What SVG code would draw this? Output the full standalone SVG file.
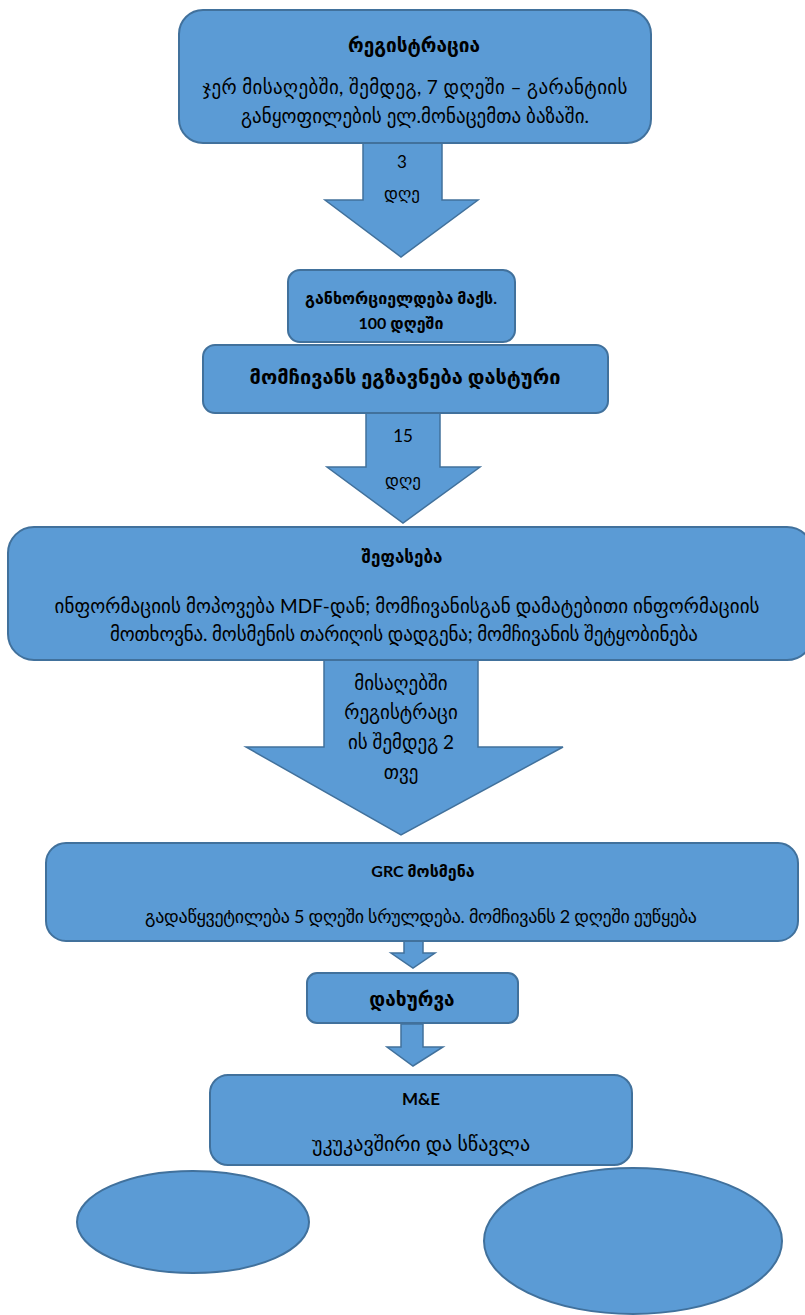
<svg xmlns="http://www.w3.org/2000/svg" width="805" height="1315" viewBox="0 0 805 1315">
<style>
.n{fill:#5B9BD5;stroke:#41719C;stroke-width:2}
.a{fill:#5B9BD5;stroke:#41719C;stroke-width:1.5}
text{font-family:Lato,"DejaVu Sans",sans-serif;fill:#000;text-anchor:middle}
.t{font-weight:bold;font-size:16px}
.b{font-size:19px}
</style>
<rect width="805" height="1315" fill="#fff"/>
<g id="connectors">
<path class="a" d="M363 143 V200 H325 L401 257 L478 200 H442 V143 Z"/>
<text class="b" x="402" y="168" style="font-size:17px">3</text>
<text class="b" x="402" y="199" style="font-size:17px">დღე</text>
<path class="a" d="M366 413 V467 H327 L403 523 L480 467 H440 V413 Z"/>
<text class="b" x="403" y="442" style="font-size:17px">15</text>
<text class="b" x="403" y="486" style="font-size:17px">დღე</text>
<path class="a" d="M324 660 V747 H246 L401 835 L563 747 H478 V660 Z"/>
<text class="b" x="401" y="690">მისაღებში</text>
<text class="b" x="401" y="719">რეგისტრაცი</text>
<text class="b" x="401" y="749">ის შემდეგ 2</text>
<text class="b" x="401" y="779">თვე</text>
<path class="a" d="M404 941 V953 H391 L413 968 L435 953 H423 V941 Z"/>
<path class="a" d="M401 1024 V1047 H387 L413 1066 L443 1047 H423 V1024 Z"/>
</g>
<g id="n1">
<rect class="n" x="179" y="10" width="472" height="133" rx="24"/>
<text class="t" x="414" y="52" style="font-size:19px">რეგისტრაცია</text>
<text class="b" x="415" y="94" textLength="425">ჯერ მისაღებში, შემდეგ, 7 დღეში – გარანტიის</text>
<text class="b" x="415" y="123" textLength="348">განყოფილების ელ.მონაცემთა ბაზაში.</text>
</g>
<g id="n2">
<rect class="n" x="288" y="270" width="227" height="72" rx="12"/>
<text class="t" x="401" y="304" style="font-size:16px">განხორციელდება მაქს.</text>
<text class="t" x="401" y="329" style="font-size:16px">100 დღეში</text>
</g>
<g id="n3">
<rect class="n" x="203" y="345" width="405" height="68" rx="12"/>
<text class="t" x="405" y="384" style="font-size:20px">მომჩივანს ეგზავნება დასტური</text>
</g>
<g id="n4">
<rect class="n" x="8" y="527" width="805" height="133" rx="26"/>
<text class="t" x="402" y="563" style="font-size:17px">შეფასება</text>
<text class="b" x="407" y="613" textLength="705">ინფორმაციის მოპოვება MDF-დან; მომჩივანისგან დამატებითი ინფორმაციის</text>
<text class="b" x="404" y="641" textLength="588">მოთხოვნა.  მოსმენის თარიღის დადგენა; მომჩივანის შეტყობინება</text>
</g>
<g id="n5">
<rect class="n" x="46" y="843" width="752" height="98" rx="20"/>
<text class="t" x="423" y="877" style="font-size:16px">GRC მოსმენა</text>
<text class="b" x="421" y="923" textLength="552" style="font-size:18px">გადაწყვეტილება 5 დღეში სრულდება. მომჩივანს 2 დღეში ეუწყება</text>
</g>
<g id="n6">
<rect class="n" x="307" y="973" width="211" height="50" rx="10"/>
<text class="t" x="412" y="1006" style="font-size:19px">დახურვა</text>
</g>
<g id="n7">
<rect class="n" x="210" y="1075" width="422" height="90" rx="18"/>
<text class="t" x="421" y="1105" style="font-size:17px">M&amp;E</text>
<text class="b" x="421" y="1151" style="font-size:20px">უკუკავშირი და სწავლა</text>
</g>
<g id="e1"><ellipse class="n" cx="193" cy="1222" rx="116" ry="51"/></g>
<g id="e2"><ellipse class="n" cx="633" cy="1241" rx="149" ry="73"/></g>
</svg>
